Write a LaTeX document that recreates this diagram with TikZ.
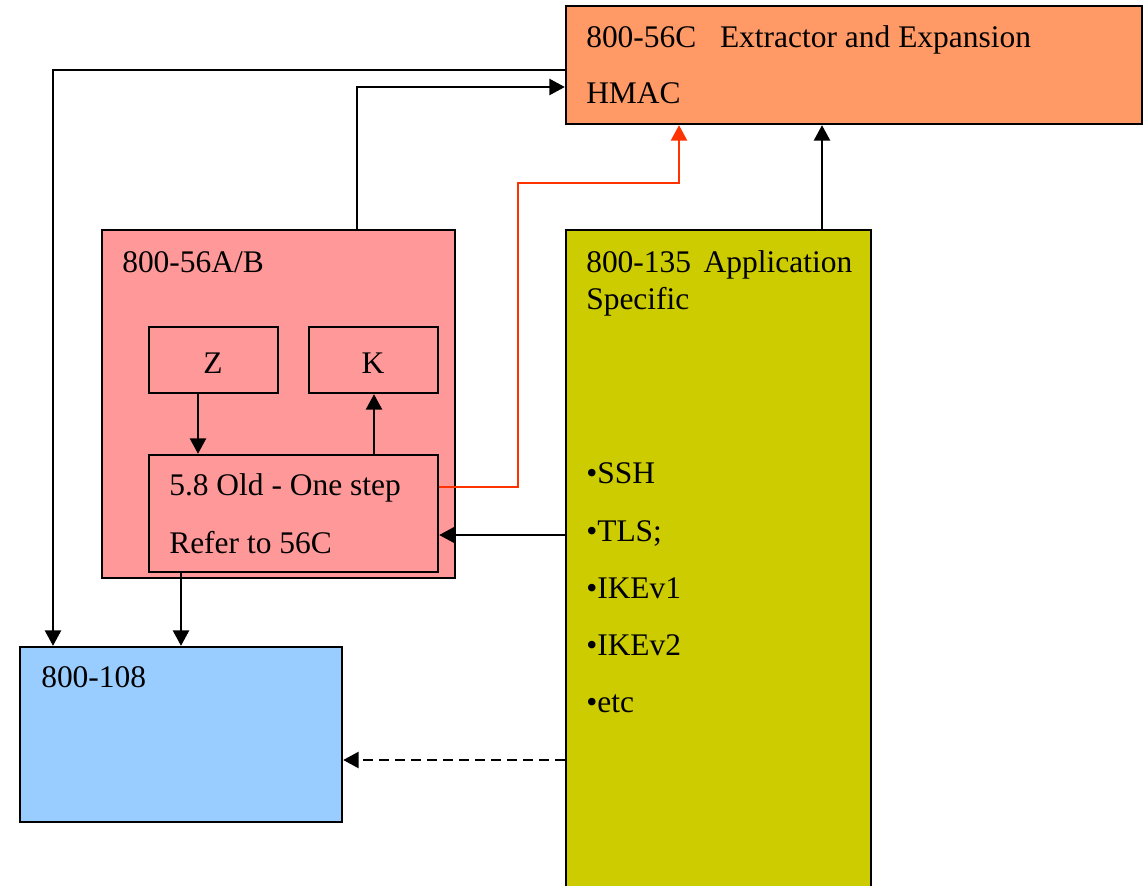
\documentclass[tikz,border=0pt]{standalone}
\usepackage{fontspec}
\setmainfont{Liberation Serif}
\usetikzlibrary{arrows.meta,fit,calc}
\definecolor{corange}{HTML}{FF9966}
\definecolor{cpink}{HTML}{FF9999}
\definecolor{cblue}{HTML}{99CCFF}
\definecolor{cyellow}{HTML}{CCCC00}
\definecolor{cred}{HTML}{FF3300}
\begin{document}
\begin{tikzpicture}[x=0.75pt,y=-0.75pt,
 box/.style={draw=black,line width=1.8pt,inner sep=0pt},
 txt/.style={anchor=base west,inner sep=0pt,font=\fontsize{23.6}{28}\selectfont},
 ctxt/.style={anchor=base,inner sep=0pt,font=\fontsize{23.6}{28}\selectfont},
 arr/.style={line width=1.6pt,-{Triangle[length=11.5pt,width=12pt]}},
]
\useasboundingbox (0,0) rectangle (1148,885);
% boxes
\node[box,fill=corange,fit={(566,6)(1142,124)}] (c56) {};
\node[box,fill=cpink,fit={(102,230)(455,578)}] (ab) {};
\node[box,fill=cpink,fit={(149,327)(278,393)}] (z) {};
\node[box,fill=cpink,fit={(309,327)(438,393)}] (k) {};
\node[box,fill=cpink,fit={(149,455)(438,572)}] (s58) {};
\node[box,fill=cblue,fit={(20,647)(342,822)}] (b108) {};
\node[box,fill=cyellow,fit={(566,230)(871,900)}] (y135) {};
% texts
\node[txt] (t1) at (586,47) {800-56C\ \ \ Extractor and Expansion};
\node[txt] (t2) at (586,103) {HMAC};
\node[txt] (t3) at (122,272) {800-56A/B};
\node[ctxt] (tz) at (213,373) {Z};
\node[ctxt] (tk) at (373,373) {K};
\node[txt] (t4) at (169,495) {5.8 Old - One step};
\node[txt] (t5) at (169,553) {Refer to 56C};
\node[txt] (t6) at (41,687) {800-108};
\node[txt] (t7) at (586,272) {800-135\hspace{0.4em}Application};
\node[txt] (t8) at (586,309) {Specific};
\node[txt] (b1) at (586,483) {•SSH};
\node[txt] (b2) at (586,541) {•TLS;};
\node[txt] (b3) at (586,598) {•IKEv1};
\node[txt] (b4) at (586,655) {•IKEv2};
\node[txt] (b5) at (586,712) {•etc};
% connectors
\draw[arr] (c56.west |- 0,70) -| (b108.north -| 53,0);
\draw[arr] (ab.north -| 357,0) |- (c56.west |- 0,87);
\draw[arr,cred] (s58.east |- 0,487) -| (518,183) -| (c56.south -| 679,0);
\draw[arr] (y135.north -| 822,0) -- (c56.south -| 822,0);
\draw[arr] (z.south -| 198,0) -- (s58.north -| 198,0);
\draw[arr] (s58.north -| 374,0) -- (k.south -| 374,0);
\draw[arr] (y135.west |- 0,535) -- (s58.east |- 0,535);
\draw[arr] (s58.south -| 181,0) -- (b108.north -| 181,0);
\draw[arr,dash pattern=on 7pt off 5pt] (y135.west |- 0,760) -- (b108.east |- 0,760);
\end{tikzpicture}
\end{document}
